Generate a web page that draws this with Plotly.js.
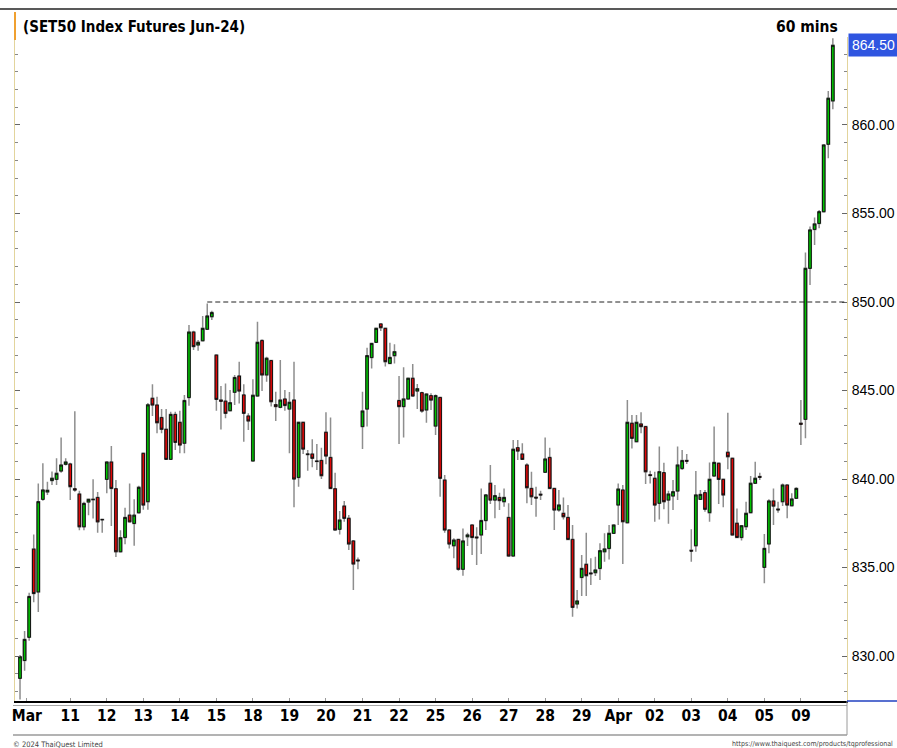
<!DOCTYPE html>
<html>
<head>
<meta charset="utf-8">
<script src="https://cdn.plot.ly/plotly-3.0.1.min.js"></script>
<style>
  html, body { margin: 0; padding: 0; background: #ffffff; }
  #chart { width: 897px; height: 748px; }
</style>
</head>
<body>
<div id="chart"></div>
<script>
// ---- DATA (60-minute bars, SET50 Index Futures Jun-24) ----
const openPx = [
  828.74, 829.75, 831.06, 836.04, 833.62, 838.85, 839.27, 839.91, 839.98, 840.45,
  840.83, 840.85, 839.45, 839.15, 837.30, 838.70, 838.83, 838.96, 837.72, 839.98,
  840.96, 839.45, 835.89, 836.70, 837.96, 837.49, 838.09, 841.45, 838.72, 844.56,
  844.18, 843.47, 842.81, 841.11, 843.65, 843.20, 842.02, 844.60, 848.30, 847.57,
  847.81, 848.46, 849.17, 847.00, 844.46, 844.40, 843.86, 844.90, 845.82, 844.75,
  843.56, 841.02, 844.69, 847.82, 845.88, 846.69, 844.20, 844.05, 844.52, 843.95,
  844.46, 840.09, 843.20, 841.42, 841.41, 841.02, 841.05, 842.64, 841.22, 839.45,
  837.16, 838.47, 837.78, 836.50, 835.42, 842.96, 843.95, 846.86, 847.72, 848.76,
  848.51, 846.53, 846.97, 844.43, 844.09, 844.52, 845.69, 844.97, 844.88, 843.90,
  844.71, 842.99, 844.61, 839.94, 837.12, 836.23, 836.59, 834.90, 836.74, 837.40,
  836.72, 836.84, 837.65, 839.76, 838.81, 838.96, 838.72, 837.83, 835.65, 841.77,
  841.41, 840.79, 839.47, 838.97, 839.14, 840.38, 841.22, 839.47, 838.25, 838.06,
  837.83, 836.59, 832.94, 834.44, 835.18, 834.69, 834.71, 834.95, 835.89, 836.08,
  836.93, 838.53, 839.38, 837.53, 843.15, 842.11, 843.11, 842.96, 840.24, 840.04,
  838.63, 840.36, 838.81, 839.04, 839.32, 840.60, 841.05, 835.97, 836.23, 838.85,
  839.23, 838.10, 840.17, 840.89, 839.98, 841.51, 841.17, 837.50, 836.70, 837.31,
  838.10, 839.76, 840.14, 835.01, 836.33, 838.76, 838.30, 838.72, 839.66, 838.49,
  838.91, 843.15, 843.37, 851.90, 854.10, 854.44, 855.10, 858.91, 861.36
];
const highPx = [
  830.06, 831.42, 833.58, 836.87, 839.75, 840.89, 839.85, 840.42, 841.17, 842.34,
  841.17, 840.92, 843.83, 839.34, 838.72, 838.85, 839.98, 839.26, 837.75, 840.96,
  841.87, 839.94, 837.11, 838.38, 839.75, 838.85, 839.62, 841.45, 844.30, 845.35,
  844.65, 843.95, 843.95, 843.80, 843.80, 843.86, 844.75, 848.70, 848.38, 847.85,
  849.21, 849.92, 849.51, 847.00, 845.25, 845.40, 845.03, 845.88, 846.63, 845.35,
  843.71, 845.63, 848.89, 847.89, 846.91, 846.69, 844.93, 846.72, 845.03, 844.92,
  846.63, 843.20, 843.20, 841.64, 842.24, 841.98, 841.77, 843.77, 843.48, 840.36,
  838.19, 838.76, 837.97, 836.55, 835.56, 844.93, 847.42, 847.70, 848.55, 848.80,
  848.51, 847.70, 847.61, 845.82, 846.31, 845.69, 846.50, 845.37, 844.93, 844.80,
  844.84, 844.78, 844.61, 840.23, 837.12, 836.65, 836.59, 837.21, 836.97, 837.40,
  837.27, 839.47, 839.15, 840.79, 839.66, 839.23, 839.47, 838.63, 842.20, 842.20,
  842.02, 840.89, 840.41, 839.57, 839.34, 842.34, 841.77, 839.47, 839.38, 838.96,
  838.53, 837.40, 833.73, 835.71, 836.97, 835.52, 835.61, 836.37, 836.93, 837.40,
  837.40, 839.75, 839.66, 844.46, 843.62, 843.62, 843.77, 842.96, 840.47, 840.41,
  841.83, 840.92, 839.34, 839.94, 841.83, 841.64, 841.41, 837.16, 840.45, 839.38,
  839.38, 840.94, 842.96, 840.89, 839.98, 843.75, 841.17, 838.34, 837.36, 838.72,
  840.17, 840.98, 840.36, 836.89, 838.85, 839.47, 838.72, 839.75, 839.66, 839.19,
  839.53, 844.46, 852.79, 854.26, 854.78, 855.20, 858.87, 861.92, 864.90
];
const lowPx = [
  827.55, 829.17, 830.87, 833.04, 832.49, 838.77, 839.10, 839.66, 839.66, 840.36,
  840.77, 838.81, 839.28, 837.11, 837.11, 837.96, 837.77, 836.96, 836.96, 839.19,
  837.34, 835.60, 835.89, 836.32, 837.58, 836.23, 838.09, 838.26, 838.26, 843.56,
  842.58, 842.58, 841.11, 841.11, 841.64, 841.45, 841.45, 844.14, 847.29, 847.25,
  847.81, 848.46, 848.98, 843.86, 842.80, 843.43, 843.86, 844.18, 844.27, 842.11,
  842.77, 841.02, 844.69, 844.97, 845.50, 844.09, 843.28, 844.00, 843.86, 841.45,
  838.40, 839.57, 841.41, 840.47, 840.66, 840.51, 840.00, 840.83, 839.47, 837.12,
  836.87, 837.59, 835.99, 833.73, 834.90, 841.69, 842.96, 846.25, 847.72, 848.36,
  846.35, 846.53, 846.53, 841.98, 842.35, 844.52, 844.65, 843.95, 843.75, 843.18,
  843.90, 842.49, 839.00, 836.97, 836.08, 835.52, 834.82, 834.54, 836.21, 835.71,
  835.14, 835.76, 837.12, 838.59, 837.78, 838.25, 838.44, 835.65, 835.65, 841.07,
  841.07, 838.63, 838.53, 837.87, 838.81, 840.38, 839.47, 837.12, 838.15, 837.72,
  836.55, 832.22, 832.69, 833.39, 833.39, 834.01, 834.52, 834.29, 835.33, 835.46,
  836.93, 837.40, 835.20, 837.53, 841.73, 842.11, 842.58, 839.72, 839.75, 837.59,
  837.72, 838.29, 837.47, 838.25, 838.81, 840.51, 840.85, 835.33, 835.89, 838.85,
  838.15, 837.59, 840.17, 838.59, 838.40, 840.55, 836.84, 836.70, 836.52, 837.12,
  838.10, 839.76, 839.94, 834.11, 835.80, 837.40, 838.10, 838.47, 837.78, 838.49,
  838.87, 841.92, 842.30, 850.96, 853.22, 854.16, 855.10, 858.12, 860.89
];
const closePx = [
  829.96, 830.94, 833.36, 833.53, 838.72, 839.38, 839.36, 840.04, 840.32, 840.79,
  840.96, 839.57, 839.38, 837.30, 838.62, 838.85, 838.85, 837.58, 837.70, 840.96,
  839.47, 835.89, 836.68, 837.83, 837.58, 837.96, 839.53, 838.53, 844.19, 844.18,
  843.18, 842.81, 841.11, 843.65, 842.07, 841.92, 844.43, 848.30, 847.48, 847.72,
  848.51, 849.21, 849.40, 844.50, 844.40, 843.71, 844.31, 845.73, 844.97, 843.71,
  843.28, 844.73, 847.72, 845.88, 846.82, 844.37, 844.09, 844.46, 844.16, 844.33,
  840.00, 843.20, 841.69, 841.38, 841.17, 840.99, 840.19, 841.30, 839.47, 837.12,
  837.68, 837.78, 836.33, 835.20, 835.38, 843.84, 846.97, 847.66, 848.51, 848.55,
  846.63, 846.87, 847.19, 844.09, 844.52, 845.69, 844.69, 845.10, 843.84, 844.80,
  844.46, 844.71, 840.04, 837.12, 836.33, 836.55, 834.90, 836.50, 836.84, 836.70,
  836.68, 837.65, 839.10, 838.81, 839.06, 838.78, 838.96, 835.65, 841.68, 841.58,
  841.11, 839.51, 839.00, 838.93, 839.10, 841.13, 839.47, 838.25, 838.53, 837.87,
  836.59, 832.75, 833.11, 834.95, 834.54, 834.65, 834.86, 835.95, 836.05, 836.93,
  837.40, 839.43, 837.59, 843.20, 842.30, 843.20, 842.96, 840.41, 840.20, 838.53,
  840.41, 838.72, 839.15, 839.28, 840.79, 841.04, 841.01, 835.93, 839.10, 839.13,
  838.29, 839.98, 840.94, 839.98, 839.10, 841.26, 836.84, 836.70, 837.36, 838.06,
  839.76, 840.04, 840.10, 836.08, 838.76, 838.47, 838.26, 839.66, 838.53, 838.87,
  839.47, 843.10, 851.90, 854.07, 854.41, 855.10, 858.87, 861.51, 864.50
];
// first bar index of each trading day and its label
const dayStart = [1.5, 11, 19, 27, 35, 43, 51, 59, 67, 75, 83, 91, 99, 107, 115, 123, 131, 139, 147, 155, 163, 171];
const dayLabel = ["Mar", "11", "12", "13", "14", "15", "18", "19", "20", "21", "22", "25", "26", "27", "28", "29", "Apr", "02", "03", "04", "05", "09"];
const priceTicks = [830, 835, 840, 845, 850, 855, 860];
const resistance = 850;
const lastPrice = 864.50;
const resistanceFromBar = 41;

// ---- CHART ----
const barIdx = openPx.map((_, i) => i);
const bodyHigh = openPx.map((v, i) => Math.max(v, closePx[i]));
const bodyLow = openPx.map((v, i) => Math.min(v, closePx[i]));

const NARROW = "'Liberation Sans Narrow', 'DejaVu Sans Condensed', 'Liberation Sans', sans-serif";
const REG = "'Liberation Sans', Arial, sans-serif";

// plot area in pixels: left 15, right 847, top 37, bottom 701
const PL = 15, PR = 847, PT = 37, PB = 701;
const px2x = p => (p - PL) / (PR - PL);
const py2y = p => (PB - p) / (PB - PT);

const wickTrace = {
  type: 'candlestick', x: barIdx,
  open: openPx, high: highPx, low: lowPx, close: closePx,
  increasing: { line: { color: '#8e8e8e', width: 1.5 }, fillcolor: '#8e8e8e' },
  decreasing: { line: { color: '#8e8e8e', width: 1.5 }, fillcolor: '#8e8e8e' },
  whiskerwidth: 0, hoverinfo: 'skip', showlegend: false
};
const bodyTrace = {
  type: 'candlestick', x: barIdx,
  open: openPx, high: bodyHigh, low: bodyLow, close: closePx,
  increasing: { line: { color: '#111111', width: 1 }, fillcolor: '#00c400' },
  decreasing: { line: { color: '#111111', width: 1 }, fillcolor: '#e00808' },
  whiskerwidth: 0, hoverinfo: 'skip', showlegend: false
};

const layout = {
  width: 897, height: 748,
  margin: { l: PL, r: 897 - PR, t: PT, b: 748 - PB, pad: 0 },
  paper_bgcolor: '#ffffff', plot_bgcolor: '#ffffff',
  showlegend: false, dragmode: false, hovermode: false,
  boxgap: 0.2,
  xaxis: {
    type: 'linear', range: [-1.1, 181.1],
    tickmode: 'array', tickvals: dayStart, ticktext: dayLabel,
    showgrid: false, zeroline: false,
    showline: true, linecolor: '#000000', linewidth: 1.5,
    ticks: 'inside', ticklen: 3, tickcolor: '#999999',
    tickfont: { family: NARROW, size: 15.5, color: '#000000', weight: 'bold' },
    rangeslider: { visible: false }, fixedrange: true
  },
  yaxis: {
    side: 'right', range: [827.46, 864.97],
    tickmode: 'array', tickvals: priceTicks, ticktext: priceTicks.map(v => v.toFixed(2)),
    showgrid: false, zeroline: false,
    showline: true, linecolor: '#e2d49c', linewidth: 1, mirror: 'ticks',
    ticks: 'inside', ticklen: 5, tickcolor: '#666666',
    minor: { tickmode: 'linear', tick0: 830, dtick: 1, ticks: 'inside', ticklen: 3, tickcolor: '#888888', showgrid: false },
    tickfont: { family: REG, size: 14, color: '#000000' },
    ticklabelstandoff: 1,
    fixedrange: true
  },
  shapes: [
    // resistance dashed line
    { type: 'line', xref: 'x', yref: 'y', x0: resistanceFromBar, x1: 181.1, y0: resistance, y1: resistance,
      line: { color: '#222222', width: 1, dash: '5px,3px' } },
    // top frame line
    { type: 'line', xref: 'paper', yref: 'paper', x0: px2x(0), x1: px2x(897), y0: py2y(9), y1: py2y(9),
      line: { color: '#222222', width: 1.5 } },
    // orange title marker
    { type: 'line', xref: 'paper', yref: 'paper', x0: px2x(15), x1: px2x(15), y0: py2y(12), y1: py2y(40),
      line: { color: '#f0a030', width: 2 } },
    // thin gray line under axis
    { type: 'line', xref: 'paper', yref: 'paper', x0: px2x(13), x1: px2x(847), y0: py2y(705.5), y1: py2y(705.5),
      line: { color: '#a8a8a8', width: 1 } },
    // gray line under date labels
    { type: 'line', xref: 'paper', yref: 'paper', x0: px2x(13), x1: px2x(847), y0: py2y(735), y1: py2y(735),
      line: { color: '#9a9a9a', width: 1.5 } },
    // vertical divider below price axis
    { type: 'line', xref: 'paper', yref: 'paper', x0: px2x(847), x1: px2x(847), y0: py2y(701), y1: py2y(735),
      line: { color: '#9a9a9a', width: 1 } },
    // blue segment at right of axis line
    { type: 'line', xref: 'paper', yref: 'paper', x0: px2x(847), x1: px2x(897), y0: py2y(701), y1: py2y(701),
      line: { color: '#2040c0', width: 1.5 } }
  ],
  annotations: [
    { text: '(SET50 Index Futures Jun-24)', xref: 'paper', yref: 'paper', x: px2x(21), y: py2y(27),
      xanchor: 'left', yanchor: 'middle', showarrow: false,
      font: { family: NARROW, size: 15, color: '#000000', weight: 'bold' } },
    { text: '60 mins', xref: 'paper', yref: 'paper', x: px2x(840), y: py2y(27),
      xanchor: 'right', yanchor: 'middle', showarrow: false,
      font: { family: NARROW, size: 15.5, color: '#000000', weight: 'bold' } },
    { text: lastPrice.toFixed(2), xref: 'paper', yref: 'y', x: px2x(848), y: lastPrice,
      xanchor: 'left', yanchor: 'middle', showarrow: false, bgcolor: '#2f55e0', borderpad: 3,
      font: { family: REG, size: 14, color: '#ffffff' } },
    { text: '© 2024 ThaiQuest Limited', xref: 'paper', yref: 'paper', x: px2x(11), y: py2y(744),
      xanchor: 'left', yanchor: 'middle', showarrow: false,
      font: { family: NARROW, size: 7.5, color: '#444444' } },
    { text: 'https://www.thaiquest.com/products/tqprofessional', xref: 'paper', yref: 'paper', x: px2x(895), y: py2y(744),
      xanchor: 'right', yanchor: 'middle', showarrow: false,
      font: { family: NARROW, size: 7, color: '#444444' } }
  ]
};

Plotly.newPlot('chart', [wickTrace, bodyTrace], layout, { staticPlot: true, displayModeBar: false });
</script>
</body>
</html>
